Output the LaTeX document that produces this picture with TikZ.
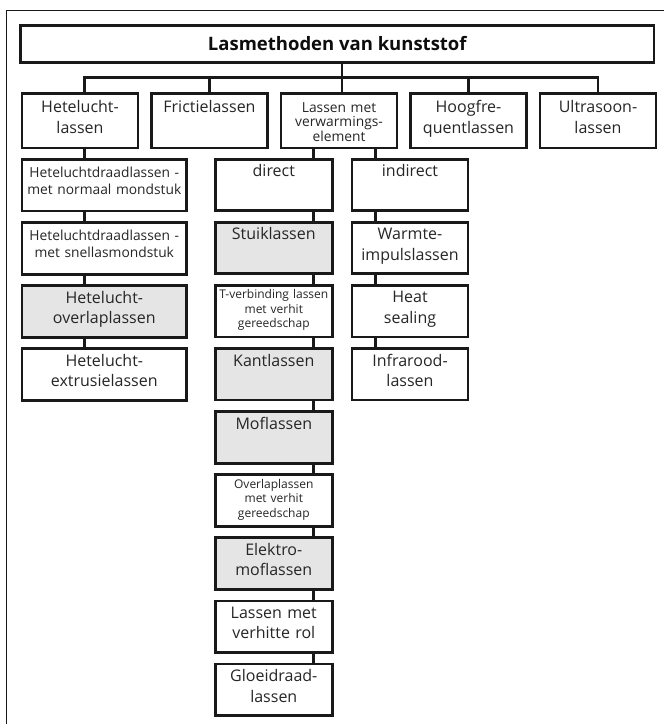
\documentclass[tikz,border=0pt]{standalone}
\usepackage{fontspec}
\setmainfont{Open Sans}
\usepackage{tikz}
\usetikzlibrary{backgrounds, positioning}
\newcommand{\bigtxt}{\fontsize{16pt}{20.5pt}\selectfont}
\newcommand{\midtxt}{\fontsize{13.8pt}{16.5pt}\selectfont}
\newcommand{\smalltxt}{\fontsize{12pt}{14.5pt}\selectfont}
\tikzstyle{box}=[draw=black!90, line width=2.8pt, fill=white, outer sep=0pt, inner sep=0pt, align=center, text=black!85, font=\bigtxt, text height=17.5pt, text depth=34pt]
\tikzstyle{shaded}=[fill=black!10]
\tikzstyle{head}=[box, minimum width=633.5pt, minimum height=37.2pt, text height=, text depth=, text=black!95, font=\fontsize{18.5pt}{22pt}\selectfont\bfseries]
\tikzstyle{kind}=[box, minimum width=116pt, text width=112pt, text height=19pt, text depth=35.5pt]
\tikzstyle{hlbox}=[box, minimum width=164.7pt, text width=163pt]
\tikzstyle{dbox}=[box, minimum width=117pt, text width=114pt]
\tikzstyle{ibox}=[box, minimum width=116pt, text width=113pt]
\tikzstyle{link}=[draw=black!90, line width=2.8pt]

\begin{document}
\begin{tikzpicture}[x=1pt, y=1pt, node distance=11.6pt]
  \useasboundingbox (0,0) rectangle (664,-724);
  \draw[black!90, line width=1.4pt] (6.3,-724) |- (664,-10.7);

  \node[head] (title) at (337.3,-43.9) {Lasmethoden van kunststof};

  \node[kind] (hl) at (80,-120.75) {Hetelucht-\\lassen};
  \node[kind] (fr) [right=13.5pt of hl] {Frictielassen};
  \node[kind, font=\fontsize{13.8pt}{14.8pt}\selectfont, text height=18.5pt, text depth=36pt] (lv) [right=13.5pt of fr] {Lassen met\\verwarmings-\\element};
  \node[kind] (hf) [right=13.5pt of lv] {Hoogfre-\\quentlassen};
  \node[kind] (us) [right=13.5pt of hf] {Ultrasoon-\\lassen};

  % hetelucht
  \node[hlbox, font=\midtxt, text height=18pt, text depth=33.5pt] (hl1) at (104.3,-185.25) {Heteluchtdraadlassen -\\met normaal mondstuk};
  \node[hlbox, font=\midtxt, text height=18pt, text depth=33.5pt] (hl2) [below=of hl1] {Heteluchtdraadlassen -\\met snellasmondstuk};
  \node[hlbox, shaded] (hl3) [below=of hl2] {Hetelucht-\\overlaplassen};
  \node[hlbox] (hl4) [below=of hl3] {Hetelucht-\\extrusielassen};

  % direct
  \node[dbox] (d0) at (273.8,-185) {direct};
  \node[dbox, shaded] (d1) [below=of d0] {Stuiklassen};
  \node[dbox, font=\smalltxt, text height=13.5pt, text depth=38pt] (d2) [below=of d1] {T-verbinding lassen\\met verhit\\gereedschap};
  \node[dbox, shaded] (d3) [below=of d2] {Kantlassen};
  \node[dbox, shaded] (d4) [below=of d3] {Moflassen};
  \node[dbox, font=\smalltxt, text height=13.5pt, text depth=38pt] (d5) [below=of d4] {Overlaplassen\\met verhit\\gereedschap};
  \node[dbox, shaded] (d6) [below=of d5] {Elektro-\\moflassen};
  \node[dbox] (d7) [below=of d6] {Lassen met\\verhitte rol};
  \node[dbox] (d8) [below=of d7] {Gloeidraad-\\lassen};

  % indirect
  \node[ibox] (i0) at (410,-185) {indirect};
  \node[ibox] (i1) [below=of i0] {Warmte-\\impulslassen};
  \node[ibox] (i2) [below=of i1] {Heat\\sealing};
  \node[ibox] (i3) [below=of i2] {Infrarood-\\lassen};

  \coordinate (bus) at (342,-77.3);
  \coordinate (hx) at (84.7,0);
  \coordinate (dx) at (313.8,0);
  \coordinate (ix) at (375.3,0);

  \begin{scope}[on background layer]
    \draw[link] (title.south -| bus) -- (lv.north -| bus);
    \draw[link] (hl.north -| hx) |- (bus) -| (us.north);
    \draw[link] (fr.north) -- (fr.north |- bus);
    \draw[link] (hf.north) -- (hf.north |- bus);
    \draw[link] (hl.south -| hx) -- (hl4.north -| hx);
    \draw[link] (lv.south -| dx) -- (d8.north -| dx);
    \draw[link] (lv.south -| ix) -- (i3.north -| ix);
  \end{scope}
\end{tikzpicture}
\end{document}
